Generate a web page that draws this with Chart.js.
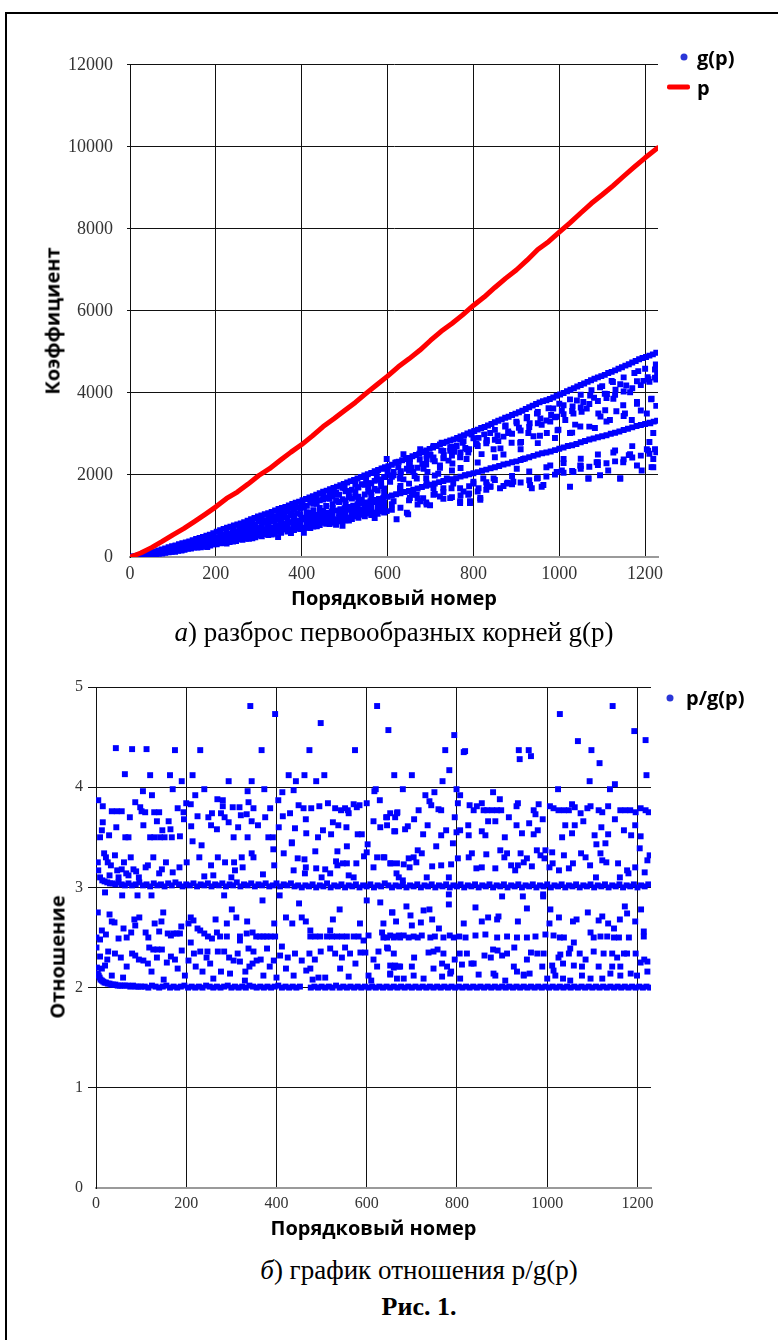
<!DOCTYPE html>
<html lang="ru">
<head>
<meta charset="utf-8">
<title>Рис. 1</title>
<script src="https://cdn.jsdelivr.net/npm/chart.js@4.4.1/dist/chart.umd.min.js"></script>
<style>
  html, body { margin: 0; padding: 0; background: #fff; }
  #page { position: relative; width: 778px; height: 1340px; overflow: hidden; }
  .frame { position: absolute; left: 5px; top: 12px; right: -10px; bottom: -10px;
           border-top: 2px solid #000; border-left: 2px solid #000; }
  canvas { position: absolute; left: 0; }
  .ytitle { position: absolute; font: bold 20px "Open Sans"; white-space: nowrap;
            transform: translate(-50%, -50%) rotate(-90deg); }
  .caption { position: absolute; font-family: "Liberation Serif"; font-size: 27px;
             white-space: nowrap; transform: translate(-50%, -50%); }
  .leg { position: absolute; font: bold 20px "Open Sans"; transform: translateY(-50%); white-space: nowrap; }
  .dot { position: absolute; width: 7px; height: 7px; border-radius: 50%; background: #2a36d8;
         transform: translate(-50%, -50%); }
  .dash { position: absolute; height: 5px; background: #f00; border-radius: 2px; transform: translateY(-50%); }
</style>
</head>
<body>
<div id="page">
  <div class="frame"></div>

  <canvas id="topChart" width="778" height="580" style="top:40px"></canvas>
  <div class="ytitle" style="left:52px; top:321px">Коэффициент</div>
  <div class="dot" style="left:684px; top:57px"></div>
  <div class="leg" style="left:697px; top:57px">g(p)</div>
  <div class="dash" style="left:667px; top:87px; width:23px"></div>
  <div class="leg" style="left:697px; top:87px">p</div>
  <div class="caption" style="left:394px; top:632px"><i>а</i>) разброс первообразных корней g(p)</div>

  <canvas id="ratioChart" width="778" height="590" style="top:660px"></canvas>
  <div class="ytitle" style="left:57px; top:957px">Отношение</div>
  <div class="dot" style="left:670px; top:698px"></div>
  <div class="leg" style="left:686px; top:697px">p/g(p)</div>
  <div class="caption" style="left:419px; top:1270px"><i>б</i>) график отношения p/g(p)</div>
  <div class="caption" style="left:419px; top:1307px; font-weight:bold; font-size:26px">Рис. 1.</div>
</div>

<script>
// ось X общая: порядковый номер простого числа
const xTicks = [0, 200, 400, 600, 800, 1000, 1200];
const topYTicks = [0, 2000, 4000, 6000, 8000, 10000, 12000];
const ratioYTicks = [0, 1, 2, 3, 4, 5];

// красная линия p (порядковый номер -> простое число)
const pIndex = [1, 25, 50, 75, 100, 125, 150, 175, 200, 225, 250, 275, 300, 325, 350, 375, 400, 425, 450, 475,
  500, 525, 550, 575, 600, 625, 650, 675, 700, 725, 750, 775, 800, 825, 850, 875, 900, 925, 950, 975,
  1000, 1025, 1050, 1075, 1100, 1125, 1150, 1175, 1200, 1229];
const pValue = [2, 97, 229, 379, 541, 691, 863, 1039, 1223, 1427, 1583, 1777, 1987, 2153, 2357, 2557, 2741, 2953, 3181, 3371,
  3571, 3769, 3989, 4201, 4409, 4637, 4831, 5039, 5279, 5503, 5693, 5903, 6133, 6337, 6571, 6793, 6997, 7237, 7499, 7687,
  7919, 8147, 8387, 8623, 8831, 9049, 9283, 9511, 9733, 9973];

// g(p): верхняя кромка (около p/2)
const gUpper = [[2,2],[8,10],[14,22],[20,36],[26,50],[32,66],[38,82],[44,98],[50,114],[58,136],[66,160],[74,186],[82,210],[90,236],
  [98,262],[106,284],[114,310],[122,336],[130,354],[138,380],[146,412],[154,440],[162,462],[170,488],[178,520],[186,546],[194,580],
  [202,616],[210,650],[218,686],[226,716],[234,740],[242,770],[250,792],[258,818],[266,850],[274,886],[282,920],[290,950],[298,990],
  [306,1010],[314,1040],[322,1070],[330,1100],[338,1136],[346,1170],[354,1196],[362,1220],[370,1256],[378,1290],[386,1322],[394,1350],
  [402,1384],[410,1416],[418,1450],[426,1480],[434,1520],[442,1556],[450,1590],[458,1618],[466,1650],[474,1682],[482,1716],[490,1750],
  [498,1782],[506,1816],[514,1850],[522,1880],[530,1914],[538,1952],[546,1990],[554,2018],[562,2050],[570,2090],[578,2120],[586,2160],
  [594,2190],[602,2212],[610,2250],[618,2296],[626,2320],[634,2360],[642,2390],[650,2416],[658,2456],[666,2486],[674,2516],[682,2560],
  [690,2596],[698,2636],[706,2670],[714,2706],[722,2746],[730,2776],[738,2810],[746,2840],[754,2864],[762,2900],[770,2938],[778,2970],
  [786,3010],[794,3040],[802,3070],[810,3106],[818,3144],[826,3170],[834,3206],[842,3244],[850,3286],[858,3320],[866,3356],[874,3394],
  [882,3420],[890,3460],[898,3496],[906,3530],[914,3566],[922,3610],[930,3650],[938,3690],[946,3730],[954,3770],[962,3800],[970,3820],
  [978,3850],[986,3890],[994,3930],[1002,3964],[1010,4000],[1018,4040],[1026,4076],[1034,4116],[1042,4156],[1050,4194],[1058,4230],
  [1066,4270],[1074,4310],[1082,4346],[1090,4380],[1098,4410],[1106,4440],[1114,4486],[1122,4514],[1130,4550],[1138,4590],[1146,4626],
  [1154,4666],[1162,4700],[1170,4740],[1178,4780],[1186,4820],[1194,4850],[1202,4874],[1210,4910],[1218,4940],[1226,4980]];

// g(p): точки чуть ниже верхней кромки
const gNearUpper = [[300,937],[306,895],[325,1016],[331,970],[350,1112],[356,1062],[375,1206],[381,1152],[400,1293],[406,1235],
  [425,1393],[431,1330],[450,1500],[456,1433],[475,1590],[481,1518],[500,1684],[506,1609],[525,1778],[531,1698],[550,1882],[556,1797],
  [575,1982],[581,1892],[600,2080],[606,1986],[625,2187],[631,2089],[650,2279],[656,2176],[675,2377],[681,2270],[700,2490],[706,2378],
  [725,2596],[731,2479],[750,2685],[756,2564],[775,2784],[781,2659],[800,2893],[806,2763],[825,2989],[831,2855],[850,3100],[856,2960],
  [875,3204],[881,3060],[900,3300],[906,3152],[925,3414],[931,3260],[950,3537],[956,3378],[975,3626],[981,3463],[1000,3735],
  [1006,3567],[1025,3843],[1031,3670],[1050,3956],[1056,3778],[1075,4067],[1081,3884],[1100,4166],[1106,3978],[1125,4268],
  [1131,4076],[1150,4379],[1156,4182],[1175,4486],[1181,4284],[1200,4591],[1206,4384],[1225,4693],[1228,4482]];

// g(p): вторая плотная полоса (около p/3)
const gThird = [[10,10],[20,24],[30,40],[40,56],[50,76],[60,96],[70,116],[80,136],[90,158],[100,180],[110,200],[120,222],[130,238],
  [140,262],[150,288],[160,306],[170,330],[180,356],[190,384],[200,408],[210,432],[220,466],[230,490],[240,510],[250,528],[260,552],
  [270,584],[280,610],[290,636],[300,662],[310,680],[320,700],[330,728],[340,756],[350,786],[360,810],[370,836],[380,862],[390,888],
  [400,914],[410,944],[420,974],[430,1000],[440,1030],[450,1060],[460,1082],[470,1110],[480,1136],[490,1164],[500,1190],[510,1218],
  [520,1248],[530,1278],[540,1306],[550,1330],[560,1358],[570,1390],[580,1412],[590,1446],[600,1470],[610,1500],[620,1530],[630,1556],
  [640,1584],[650,1610],[660,1640],[670,1670],[680,1708],[690,1736],[700,1760],[710,1790],[720,1826],[730,1852],[740,1880],[750,1898],
  [760,1920],[770,1960],[780,1990],[790,2016],[800,2044],[810,2070],[820,2104],[830,2130],[840,2164],[850,2190],[860,2220],[870,2256],
  [880,2276],[890,2310],[900,2332],[910,2364],[920,2400],[930,2432],[940,2466],[950,2500],[960,2530],[970,2550],[980,2572],[990,2606],
  [1000,2640],[1010,2670],[1020,2706],[1030,2724],[1040,2756],[1050,2796],[1060,2826],[1070,2866],[1080,2890],[1090,2920],[1100,2944],
  [1110,2970],[1120,3004],[1130,3030],[1140,3062],[1150,3094],[1160,3126],[1170,3160],[1180,3194],[1190,3220],[1200,3244],[1210,3276],
  [1220,3300],[1228,3324]];

// g(p): разброс, первая половина
const gSpreadLeft = [[15,19],[15,12],[30,45],[30,32],[30,28],[45,86],[45,76],[45,56],[45,50],[45,45],[60,117],[60,104],[60,85],[60,74],
  [60,69],[75,172],[75,149],[75,118],[75,108],[75,97],[75,86],[90,201],[90,178],[90,142],[90,123],[90,113],[105,254],[105,228],[105,181],
  [105,163],[105,150],[105,130],[120,275],[120,258],[120,200],[120,176],[120,160],[135,350],[135,296],[135,240],[135,220],[135,200],
  [150,367],[150,338],[150,266],[150,247],[150,230],[165,425],[165,391],[165,310],[165,268],[165,237],[180,486],[180,419],[180,334],
  [180,281],[180,245],[195,505],[195,457],[195,365],[195,339],[195,308],[210,527],[210,478],[210,391],[210,359],[210,337],[225,649],
  [225,549],[225,432],[225,386],[225,327],[240,640],[240,593],[240,484],[240,432],[240,380],[255,720],[255,645],[255,496],[255,431],
  [270,734],[270,680],[270,525],[270,484],[270,447],[285,855],[285,739],[285,568],[285,506],[285,455],[300,875],[300,715],[300,568],
  [300,523],[315,893],[315,836],[315,633],[315,562],[330,1028],[330,874],[330,673],[330,595],[330,547],[345,1042],[345,915],[345,698],
  [345,616],[345,485],[360,1067],[360,965],[360,734],[360,669],[375,1206],[375,1070],[375,1019],[375,675],[375,585],[390,1211],
  [390,1067],[390,792],[390,765],[390,692],[405,1206],[405,958],[405,708],[405,591],[420,1326],[420,1075],[420,869],[420,776],
  [420,705],[435,1434],[435,1300],[435,884],[435,766],[435,749],[450,1401],[450,1120],[450,967],[450,886],[450,833],[465,1529],
  [465,1418],[465,1057],[465,938],[465,806],[480,1568],[480,1368],[480,906],[480,786],[495,1685],[495,1410],[495,1053],[495,929],
  [495,872],[495,763],[510,1550],[510,1458],[510,1151],[510,953],[510,888],[525,1577],[525,1467],[525,1156],[525,1068],[525,994],
  [540,1772],[540,1396],[540,1155],[540,1072],[540,1029],[555,1715],[555,1599],[555,1239],[555,1177],[555,1059],[570,1856],[570,1656],
  [570,1341],[570,1085],[570,951],[585,1817],[585,1729],[585,1290],[585,1210],[585,1118],
  [52,70],[67,110],[82,160],[97,190],[112,245],[127,290],[142,300],[157,350],[172,380],[187,470],[202,460],[217,540],[232,560],
  [247,620],[262,700],[277,760],[292,800],[307,900],[322,920],[337,980],[352,1000],[367,1100],[382,1150],[397,1180],[412,1250],
  [427,1300],[442,1380],[457,1450],[472,1480],[487,1520],[502,1600],[517,1640],[532,1700],[547,1760],[562,1800],[577,1880],[592,1950],
  [52,58],[67,85],[82,115],[97,140],[112,165],[127,200],[142,225],[157,255],[172,280],[187,310],[202,340],[217,375],[232,405],
  [247,440],[262,460],[277,500],[292,520],[307,560],[322,590],[337,630],[352,660],[367,690],[382,720],[397,745],[412,790],[427,810],
  [442,850],[457,890],[472,930],[487,960],[502,985],[517,1020],[532,1050],[547,1080],[562,1120],[577,1150],[592,1180]];

// g(p): заполнение сплошной полосы до 600
const gSpreadFill = [[22,30],[22,24],[37,60],[37,48],[37,39],[67,127],[67,100],[67,83],[82,162],[82,150],[82,128],[82,105],
  [97,196],[97,154],[97,127],[112,236],[112,219],[112,186],[112,153],[127,270],[127,212],[127,175],[142,316],[142,293],[142,249],
  [142,205],[157,353],[157,278],[157,230],[172,393],[172,365],[172,309],[172,255],[187,430],[187,338],[187,279],[202,473],[202,440],
  [202,373],[202,308],[217,523],[217,412],[217,340],[232,561],[232,521],[232,442],[232,365],[247,603],[247,475],[247,392],[262,642],
  [262,596],[262,506],[262,417],[277,688],[277,542],[277,447],[292,736],[292,683],[292,580],[292,478],[307,780],[307,614],[307,507],
  [322,822],[322,763],[322,648],[322,534],[337,874],[337,689],[337,568],[352,912],[352,847],[352,718],[352,593],[367,953],[367,751],
  [367,619],[382,1008],[382,936],[382,794],[382,655],[397,1046],[397,824],[397,680],[412,1093],[412,1015],[412,862],[412,711],
  [427,1142],[427,900],[427,742],[442,1196],[442,1110],[442,942],[442,777],[457,1242],[457,978],[457,807],[472,1287],[472,1195],
  [472,1014],[472,837],[487,1343],[487,1058],[487,873],[502,1378],[502,1280],[502,1086],[502,896],[517,1427],[517,1124],[517,927],
  [532,1470],[532,1365],[532,1158],[532,955],[547,1526],[547,1202],[547,992],[562,1573],[562,1461],[562,1240],[562,1023],
  [577,1623],[577,1278],[577,1055],[592,1673],[592,1553],[592,1318],[592,1087]];

// g(p): разброс, вторая половина
const gSpreadRight = [[614,2072],[629,1913],[652,2310],[660,2072],[684,2151],[691,2389],[707,2429],[722,2230],[730,2587],[746,2667],
  [742,2349],[761,2706],[769,2429],[777,2825],[788,2548],[808,2746],[812,2905],[831,2825],[839,3024],[847,2627],[858,2825],[874,3183],
  [882,3024],[889,2786],[901,3262],[909,2786],[924,3381],[928,3024],[940,2944],[948,3500],[959,3222],[971,3024],[979,3302],[986,3619],
  [994,3421],[998,3103],[1010,3699],[1014,3341],[1025,3024],[1033,3500],[1041,3817],[1049,3183],[1052,3540],[1064,3619],[1072,3937],
  [1083,3143],[1091,3500],[1095,4135],[1107,3580],[1111,3976],[1118,3341],[1122,4294],[1126,3857],[1142,4214],[1149,3699],[1153,3500],
  [1165,4016],[1169,3341],[1181,3778],[1184,4532],[1196,4294],[1204,3500],[1208,4333],[1215,3857],[1223,4572],[1223,4373],[1212,3262],
  [598,2389],[621,2310],[637,2508],[652,2389],[676,2627],[691,2468],[707,2706],[726,2786],[746,2587],[769,2865],[784,2627],[796,2984],
  [614,1357],[629,1595],[645,1079],[652,1437],[668,1516],[691,1278],[707,1675],[722,1476],[738,1913],[749,1675],[769,1357],[777,1595],
  [792,1317],[800,1833],[816,1437],[831,1754],[847,1913],[862,1675],[878,1794],[893,1833],[901,2151],[916,2389],[932,1754],[948,1913],
  [963,1754],[979,2230],[994,2072],[1010,2389],[1025,1714],[1033,2072],[1049,2230],[1068,1913],[1087,2310],[1095,1992],[1114,2111],
  [1126,2548],[1142,1913],[1149,2310],[1165,2508],[1181,2230],[1192,2111],[1204,2627],[1215,2191],[1219,2389],[1223,2627],[1219,3024],
  [621,920],[648,1039],[598,1119],[699,1262],[683,1436],[769,1317],[792,1357],[816,1397],[839,1714],[936,1674],[959,1714],[1068,1912],
  [1142,1912],[1219,2190],[590,2150],[606,1833],[614,1992],[629,1674],[645,2150],[656,1516],[668,1912],[676,1357],[691,1793],[707,1516],
  [718,2031],[730,1674],[746,1436],[753,1793],[769,1674],[781,1992],[788,1516],[800,1793],[812,1674],[823,1912],
  [637,1892],[663,1976],[693,2076],[722,2176],[751,2280],[784,2388],[819,2508],[863,2648],[911,2804],[955,2956],[996,3088],[1037,3228],
  [1096,3424],[1133,3552],[1181,3736],[1214,3844],[840,1720],[880,1810],[1006,2110],[1050,2218],[1090,2312],[1162,2484],[1207,2593]];

// g(p): дополнительный разброс справа
const gSpreadRight2 = [[610,1957],[610,1286],[610,1154],[630,2035],[630,1733],[630,1200],[650,2100],[650,1789],[650,1380],
  [670,2174],[670,1429],[670,1282],[690,2252],[690,1919],[690,1328],[710,2335],[710,1989],[710,1534],[730,2409],[730,1583],[730,1421],
  [750,2475],[750,2109],[750,1460],[770,2548],[770,2170],[770,1503],[790,2626],[790,1726],[790,1549],[810,2704],[810,2304],[810,1595],
  [830,2774],[830,1823],[830,1636],[850,2857],[850,2434],[850,1877],[870,2935],[870,2500],[870,1731],[890,3004],[890,1974],[890,1772],
  [910,3083],[910,2626],[910,1818],[930,3170],[930,2083],[930,1869],[950,3260],[950,2777],[950,1923],[970,3326],[970,2186],[970,1962],
  [990,3404],[990,2900],[990,2008],[1010,3483],[1010,2289],[1010,2054],[1030,3561],[1030,3033],[1030,2100],[1050,3647],[1050,2396],
  [1050,2151],[1070,3730],[1070,3178],[1070,2200],[1090,3804],[1090,2500],[1090,2244],[1110,3878],[1110,3304],[1110,2287],
  [1130,3952],[1130,2597],[1130,2331],[1150,4036],[1150,3438],[1150,2380],[1170,4113],[1170,2703],[1170,2426],[1190,4191],
  [1190,3570],[1190,2472],[1210,4270],[1210,2806],[1210,2518],[1226,4326],[1226,3685],[1226,2551]];

// p/g(p): плотный ряд около 2
const ratioRow2 = [[2,2.2],[4,2.14],[6,2.12],[8,2.1],[10,2.08],[13,2.07],[16,2.06],[19,2.05],[22,2.05],[26,2.04],[30,2.04],[34,2.03],
  [38,2.03],[43,2.03],[48,2.02],[53,2.02],[58,2.02],[64,2.02],[70,2.02],[76,2.01],[82,2.02],[88,2.01],[94,2.01],[100,2.01],[108,2.01],
  [116,2.0],[124,2.02],[132,2.01],[140,2.0],[148,2.01],[156,2.02],[164,2.0],[172,2.01],[180,2.0],[188,2.01],[196,2.02],[204,2.0],
  [212,2.01],[220,2.0],[228,2.01],[236,2.0],[244,2.02],[252,2.01],[260,2.0],[268,2.01],[276,2.0],[284,2.01],[292,2.02],[300,2.0],
  [308,2.01],[316,2.0],[324,2.01],[332,2.0],[340,2.02],[348,2.01],[356,2.0],[364,2.01],[372,2.0],[380,2.01],[388,2.0],[396,2.01],
  [404,2.02],[412,2.0],[420,2.01],[428,2.0],[436,2.01],[444,2.0],[452,2.01],[476,2.0],[484,2.01],[492,2.0],[500,2.01],[508,2.0],
  [516,2.01],[524,2.0],[532,2.02],[540,2.0],[548,2.01],[556,2.0],[564,2.01],[572,2.0],[580,2.01],[588,2.0],[596,2.01],[604,2.0],
  [612,2.01],[620,2.0],[628,2.01],[636,2.0],[644,2.01],[652,2.0],[660,2.01],[668,2.0],[676,2.01],[684,2.0],[692,2.01],[700,2.0],
  [708,2.01],[716,2.0],[724,2.01],[732,2.0],[740,2.01],[748,2.0],[756,2.01],[764,2.0],[772,2.01],[780,2.0],[788,2.01],[796,2.0],
  [804,2.01],[812,2.0],[820,2.01],[828,2.0],[836,2.01],[844,2.0],[852,2.01],[860,2.0],[868,2.01],[876,2.0],[884,2.01],[892,2.0],
  [900,2.01],[908,2.0],[916,2.01],[924,2.0],[932,2.01],[940,2.0],[948,2.01],[956,2.0],[964,2.01],[972,2.0],[980,2.01],[988,2.0],
  [996,2.01],[1004,2.0],[1012,2.01],[1020,2.0],[1028,2.01],[1036,2.0],[1044,2.01],[1052,2.0],[1060,2.01],[1068,2.0],[1076,2.01],
  [1084,2.0],[1092,2.01],[1100,2.0],[1108,2.01],[1116,2.0],[1124,2.01],[1132,2.0],[1140,2.01],[1148,2.0],[1156,2.01],[1164,2.0],
  [1172,2.01],[1180,2.0],[1188,2.01],[1196,2.0],[1204,2.01],[1212,2.0],[1220,2.01],[1228,2.0]];

// p/g(p): плотный ряд около 3
const ratioRow3 = [[9,3.1],[14,3.07],[19,3.06],[25,3.05],[31,3.04],[37,3.04],[43,3.03],[50,3.05],[57,3.03],[64,3.02],[72,3.04],[80,3.02],
  [88,3.03],[96,3.05],[104,3.02],[112,3.03],[120,3.01],[128,3.04],[136,3.02],[144,3.03],[152,3.01],[160,3.04],[168,3.02],[176,3.05],
  [184,3.03],[192,3.01],[200,3.03],[208,3.02],[216,3.04],[224,3.01],[232,3.03],[240,3.02],[248,3.04],[256,3.01],[264,3.03],[272,3.02],
  [280,3.04],[288,3.01],[296,3.03],[304,3.02],[312,3.05],[320,3.01],[328,3.03],[336,3.02],[344,3.04],[352,3.01],[360,3.03],[368,3.02],
  [376,3.04],[384,3.01],[392,3.02],[400,3.04],[408,3.01],[416,3.03],[424,3.02],[432,3.04],[440,3.01],[448,3.02],[456,3.0],[464,3.02],
  [472,3.01],[480,3.03],[488,3.0],[496,3.02],[504,3.01],[512,3.04],[520,3.0],[528,3.02],[536,3.01],[544,3.03],[552,3.0],[560,3.02],
  [568,3.01],[576,3.03],[584,3.0],[592,3.02],[600,3.01],[608,3.03],[616,3.0],[624,3.02],[632,3.01],[640,3.04],[648,3.02],[656,3.0],
  [664,3.02],[672,3.01],[680,3.03],[688,3.0],[696,3.02],[704,3.01],[712,3.03],[720,3.0],[728,3.02],[736,3.01],[744,3.03],[752,3.0],
  [760,3.02],[768,3.01],[776,3.03],[784,3.0],[792,3.02],[800,3.01],[808,3.03],[816,3.0],[824,3.02],[832,3.01],[840,3.03],[848,3.0],
  [856,3.02],[864,3.01],[872,3.03],[880,3.0],[888,3.02],[896,3.01],[904,3.03],[912,3.0],[920,3.02],[928,3.01],[936,3.03],[944,3.0],
  [952,3.02],[960,3.01],[968,3.03],[976,3.0],[984,3.02],[992,3.01],[1000,3.03],[1008,3.0],[1016,3.02],[1024,3.01],[1032,3.03],
  [1040,3.0],[1048,3.02],[1056,3.01],[1064,3.03],[1072,3.0],[1080,3.02],[1088,3.01],[1096,3.03],[1104,3.0],[1112,3.02],[1120,3.01],
  [1128,3.03],[1136,3.0],[1144,3.02],[1152,3.01],[1160,3.03],[1168,3.0],[1176,3.02],[1184,3.01],[1192,3.03],[1200,3.0],[1208,3.02],
  [1216,3.01],[1224,3.03]];

// p/g(p): точки выше 3
const ratioHigh = [[342,4.81],[397,4.73],[498,4.64],[623,4.81],[648,4.57],[44,4.39],[80,4.38],[112,4.38],[175,4.37],[231,4.37],
  [367,4.37],[473,4.37],[574,4.37],[64,4.13],[120,4.12],[164,4.12],[214,4.12],[190,4.06],[294,4.06],[345,4.06],[427,4.12],[443,4.06],
  [462,4.12],[488,4.06],[506,4.12],[661,4.12],[700,4.12],[794,4.52],[774,4.37],[818,4.36],[815,4.35],[783,4.17],[768,4.06],[937,4.37],
  [959,4.37],[939,4.28],[964,4.31],[1028,4.73],[1068,4.46],[1098,4.37],[1116,4.24],[1094,4.06],[1145,4.81],[1150,4.03],[1193,4.56],
  [1218,4.47],[1220,4.12],[620,3.98],[680,3.98],[1024,3.98],[1139,3.98],
  [5,3.87],[15,3.81],[35,3.76],[46,3.76],[57,3.76],[9,3.5],[13,3.57],[29,3.52],[65,3.5],[72,3.5],[87,3.85],[98,3.8],[101,3.76],
  [109,3.75],[104,3.96],[124,3.92],[129,3.75],[140,3.75],[120,3.5],[129,3.5],[142,3.5],[147,3.57],[152,3.5],[168,3.5],[161,3.66],
  [170,3.98],[181,3.79],[186,3.51],[194,3.75],[200,3.84],[210,3.83],[211,3.61],[214,3.46],[220,3.92],[225,3.71],[234,3.42],[240,3.98],
  [249,3.7],[257,3.74],[268,3.58],[269,3.88],[281,3.87],[277,3.74],[281,3.81],[294,3.65],[305,3.5],[303,3.8],[318,3.8],[321,3.72],
  [334,3.73],[336,3.5],[338,3.85],[336,3.96],[349,3.79],[359,3.62],[386,3.79],[373,3.98],[382,3.5],[392,3.5],[404,3.87],[413,3.95],
  [414,3.71],[430,3.74],[438,3.97],[441,3.59],[434,3.45],[449,3.82],[460,3.79],[466,3.54],[477,3.79],[495,3.81],[492,3.5],[503,3.57],
  [514,3.84],[521,3.53],[530,3.79],[537,3.62],[543,3.77],[552,3.79],[558,3.77],[560,3.74],[571,3.83],[578,3.8],[584,3.82],[580,3.53],
  [589,3.53],[600,3.84],[602,3.43],[617,3.96],[629,3.87],[630,3.6],[645,3.7],[652,3.74],[663,3.56],[667,3.74],
  [750,3.95],[730,3.92],[739,3.86],[743,3.82],[799,3.98],[807,3.92],[802,3.84],[880,3.95],[895,3.88],[643,3.7],[663,3.7],[668,3.75],
  [715,3.77],[759,3.78],[765,3.77],[828,3.82],[837,3.77],[844,3.81],[855,3.84],[859,3.77],[867,3.77],[878,3.77],[889,3.77],[898,3.77],
  [932,3.81],[935,3.84],[970,3.77],[974,3.73],[981,3.83],[1006,3.81],[1014,3.79],[1025,3.77],[1037,3.77],[1048,3.77],[1055,3.83],
  [1061,3.8],[1074,3.74],[1089,3.79],[1096,3.81],[1114,3.77],[1122,3.75],[1135,3.81],[1162,3.77],[1173,3.77],[1184,3.77],[1196,3.75],
  [1207,3.79],[1218,3.77],[1225,3.75],
  [661,3.56],[685,3.58],[691,3.61],[725,3.53],[765,3.52],[776,3.57],[791,3.44],[799,3.55],[807,3.57],[754,3.41],[826,3.52],[855,3.56],
  [863,3.52],[869,3.66],[906,3.5],[932,3.62],[944,3.54],[970,3.53],[979,3.57],[1033,3.5],[1055,3.54],[1061,3.62],[1105,3.52],
  [1109,3.43],[1129,3.44],[1135,3.53],[1170,3.57],[1186,3.52],[1207,3.51],[1205,3.39],
  [4,3.25],[5,3.17],[18,3.34],[22,3.3],[26,3.25],[33,3.22],[42,3.32],[47,3.17],[57,3.18],[62,3.25],[67,3.14],[77,3.3],[83,3.18],
  [89,3.16],[110,3.2],[127,3.3],[140,3.14],[146,3.18],[155,3.25],[201,3.25],[229,3.3],[240,3.11],[270,3.3],[286,3.25],[306,3.25],
  [308,3.17],[323,3.3],[349,3.3],[345,3.34],[393,3.38],[416,3.34],[434,3.44],[438,3.17],[447,3.29],[462,3.28],[463,3.14],[486,3.36],
  [488,3.19],[508,3.18],[519,3.14],[532,3.26],[535,3.36],[547,3.24],[556,3.24],[556,3.41],[571,3.1],[577,3.24],[594,3.31],[600,3.35],
  [623,3.3],[637,3.3],[654,3.24],[667,3.24],[666,3.14],[639,3.3],[652,3.24],[682,3.23],[693,3.29],[704,3.3],[710,3.25],[713,3.37],
  [722,3.34],[745,3.21],[733,3.1],[787,3.23],[782,3.1],[671,3.1],[680,3.07],[802,3.29],[826,3.3],[833,3.34],[843,3.19],[865,3.33],
  [885,3.19],[896,3.37],[905,3.3],[911,3.34],[920,3.22],[929,3.17],[941,3.34],[948,3.25],[955,3.29],[966,3.21],[977,3.37],[985,3.32],
  [994,3.29],[996,3.37],[1011,3.35],[1012,3.24],[1026,3.17],[1037,3.32],[1048,3.19],[1057,3.24],[1075,3.34],[1085,3.3],[1108,3.1],
  [1118,3.34],[1122,3.27],[1131,3.25],[1157,3.24],[1177,3.17],[1161,3.1],[1180,3.14],[1216,3.15],[1222,3.27],[1227,3.32],
  [30,3.12],[50,3.1],[72,3.12],[95,3.1],[170,3.15],[260,3.12],[300,3.1],[370,3.13],[500,3.1],[560,3.12],
  [15,3.65],[45,3.6],[75,3.7],[105,3.62],[135,3.66],[165,3.58],[195,3.68],[255,3.62],[285,3.7],[315,3.6],[345,3.66],[375,3.7],
  [405,3.6],[465,3.68],[525,3.65],[555,3.6],[615,3.66],[645,3.62],[705,3.68],[735,3.62],[795,3.7],[825,3.62],[885,3.66],[915,3.7],
  [960,3.64],[990,3.68],[1040,3.62],[1080,3.66],[1120,3.6],[1150,3.68],[1195,3.62],
  [115,3.22],[185,3.2],[255,3.22],[325,3.2],[395,3.22],[465,3.2],[535,3.22],[615,3.2],[695,3.2],[765,3.22],[855,3.2],[935,3.22],
  [1005,3.2],[1095,3.22],[1195,3.2]];

// p/g(p): точки между 2 и 3
const ratioLow = [[20,2.95],[58,2.92],[92,2.92],[123,2.92],[284,2.92],[369,2.87],[407,2.92],[450,2.84],[456,2.7],[421,2.7],[435,2.64],
  [540,2.78],[600,2.87],[637,2.64],[656,2.75],[4,2.75],[30,2.73],[41,2.65],[13,2.57],[22,2.53],[9,2.48],[1,2.5],[61,2.59],[68,2.5],
  [78,2.55],[87,2.62],[96,2.7],[110,2.55],[116,2.5],[130,2.64],[140,2.56],[149,2.75],[159,2.54],[166,2.52],[172,2.54],[179,2.54],
  [186,2.54],[189,2.61],[210,2.7],[216,2.67],[225,2.59],[231,2.57],[240,2.54],[248,2.51],[257,2.49],[268,2.55],[275,2.51],[290,2.51],
  [301,2.78],[311,2.7],[290,2.64],[319,2.51],[319,2.47],[347,2.55],[355,2.51],[363,2.51],[371,2.51],[378,2.51],[387,2.51],[397,2.51],
  [334,2.54],[412,2.41],[475,2.51],[486,2.51],[497,2.51],[512,2.51],[523,2.51],[534,2.51],[545,2.51],[556,2.51],[571,2.51],[582,2.51],
  [475,2.57],[519,2.57],[593,2.47],[604,2.52],[634,2.55],[645,2.5],[660,2.5],[671,2.52],
  [630,2.85],[657,2.75],[688,2.81],[697,2.72],[726,2.77],[739,2.78],[720,2.65],[700,2.62],[782,2.83],[760,2.59],[841,2.8],[869,2.7],
  [889,2.68],[892,2.71],[955,2.79],[991,2.91],[1007,2.78],[1026,2.7],[1057,2.66],[1090,2.75],[1114,2.67],[1122,2.71],[1148,2.59],
  [1161,2.68],[1172,2.81],[1177,2.74],[1208,2.78],[782,2.93],[900,2.91],[946,2.91],[991,2.93],
  [637,2.5],[652,2.52],[663,2.51],[674,2.5],[682,2.52],[693,2.5],[704,2.51],[713,2.5],[722,2.52],[741,2.5],[751,2.51],[770,2.5],
  [784,2.52],[793,2.5],[805,2.51],[819,2.5],[841,2.52],[863,2.53],[889,2.5],[911,2.51],[933,2.5],[955,2.5],[974,2.51],[996,2.53],
  [1014,2.52],[1028,2.5],[1037,2.5],[1059,2.45],[1096,2.55],[1103,2.5],[1118,2.51],[1133,2.51],[1148,2.5],[1159,2.5],[1181,2.5],
  [1214,2.56],[1214,2.51],
  [1,2.4],[9,2.31],[20,2.22],[13,2.19],[27,2.36],[42,2.34],[50,2.49],[68,2.21],[80,2.34],[87,2.32],[105,2.27],[115,2.24],[123,2.16],
  [118,2.4],[127,2.38],[136,2.38],[146,2.38],[157,2.25],[166,2.31],[181,2.19],[197,2.12],[190,2.37],[205,2.27],[221,2.21],[210,2.45],
  [217,2.34],[231,2.36],[247,2.36],[236,2.16],[253,2.24],[270,2.36],[284,2.36],[277,2.16],[297,2.14],[305,2.27],[314,2.34],[319,2.26],
  [338,2.39],[349,2.36],[331,2.16],[340,2.21],[347,2.24],[356,2.27],[371,2.12],[379,2.39],[385,2.21],[394,2.27],[408,2.32],[421,2.19],
  [441,2.34],[438,2.12],[456,2.27],[466,2.17],[475,2.19],[473,2.34],[493,2.1],[508,2.1],[498,2.36],[519,2.39],[530,2.34],[541,2.19],
  [552,2.4],[563,2.34],[575,2.24],[586,2.35],[597,2.35],[604,2.12],[623,2.21],[626,2.36],[647,2.39],[652,2.13],[663,2.22],[671,2.21],
  [60,2.1],[150,2.08],[260,2.09],[330,2.07],[400,2.1],[480,2.08],[560,2.11],[610,2.07],[35,2.12],
  [645,2.4],[660,2.34],[737,2.35],[748,2.36],[757,2.38],[770,2.34],[806,2.34],[822,2.34],[832,2.24],[861,2.32],[880,2.38],[890,2.37],
  [900,2.32],[911,2.34],[927,2.4],[964,2.35],[978,2.34],[992,2.34],[1011,2.22],[1029,2.33],[1048,2.34],[1051,2.39],[1072,2.34],
  [1103,2.36],[1125,2.34],[1144,2.34],[1170,2.34],[1177,2.34],[1196,2.34],
  [652,2.22],[660,2.2],[674,2.21],[700,2.21],[748,2.19],[767,2.24],[778,2.21],[787,2.16],[811,2.23],[837,2.24],[881,2.14],[926,2.21],
  [933,2.16],[948,2.12],[989,2.21],[1014,2.17],[1035,2.24],[1059,2.22],[1077,2.21],[1114,2.21],[1144,2.21],[1162,2.21],[1207,2.25],
  [1222,2.26],[652,2.14],[667,2.09],[682,2.09],[704,2.12],[726,2.09],[767,2.11],[785,2.14],[807,2.09],[848,2.13],[885,2.12],[907,2.07],
  [948,2.13],[961,2.14],[1000,2.09],[1018,2.12],[1035,2.09],[1051,2.07],[1077,2.12],[1096,2.09],[1122,2.09],[1140,2.14],[1162,2.12],
  [1185,2.14],[1199,2.12],[1222,2.16],
  [25,2.28],[55,2.3],[95,2.28],[135,2.3],[175,2.28],[245,2.3],[295,2.3],[365,2.28],[425,2.3],[485,2.28],[545,2.3],[615,2.28],
  [705,2.3],[795,2.28],[875,2.3],[955,2.28],[1025,2.3],[1085,2.28],[1155,2.3],[1215,2.28],
  [35,2.66],[85,2.68],[145,2.66],[205,2.64],[265,2.68],[335,2.66],[395,2.64],[465,2.66],[525,2.68],[585,2.64],[665,2.66],[745,2.68],
  [815,2.64],[855,2.66],[935,2.66],[1005,2.64],[1065,2.68],[1135,2.64],[1195,2.66]];

const toPts = arr => arr.map(([x, y]) => ({ x, y }));
const serif = 'Liberation Serif';
const sans = 'Open Sans';
const gridDark = '#111';
const axisGrey = '#9a9a9a';

function axes(cfg) {
  return {
    x: {
      type: 'linear', min: 0, max: 1230,
      afterFit: s => { s.height = cfg.xHeight; },
      afterBuildTicks: s => { s.ticks = xTicks.map(v => ({ value: v })); },
      border: { color: axisGrey, width: 2 },
      grid: { color: gridDark, lineWidth: 1, drawTicks: false },
      ticks: { padding: cfg.xPad, color: '#333', maxRotation: 0, callback: v => String(v),
               font: { family: serif, size: cfg.tickSize } },
      title: { display: true, text: 'Порядковый номер', color: '#000',
               font: { family: sans, size: 20, weight: 'bold' }, padding: { top: 0, bottom: 9 } }
    },
    y: {
      type: 'linear', min: 0, max: cfg.yMax,
      afterFit: s => { s.width = cfg.yWidth; },
      afterBuildTicks: s => { s.ticks = cfg.yTicks.map(v => ({ value: v })); },
      border: { color: gridDark, width: 1 },
      grid: { color: c => c.tick && c.tick.value === 0 ? 'rgba(0,0,0,0)' : gridDark, lineWidth: 1, tickLength: cfg.tickLen },
      ticks: { padding: cfg.yPad, color: '#333', callback: v => String(v), font: { family: serif, size: cfg.tickSize } }
    }
  };
}

const common = {
  responsive: false,
  devicePixelRatio: 1,
  animation: false,
  events: [],
  plugins: { legend: { display: false }, tooltip: { enabled: false } }
};

const bluePoints = {
  type: 'scatter',
  showLine: false,
  pointStyle: 'rect',
  pointRadius: 4.2,
  pointBorderWidth: 0,
  backgroundColor: '#0000ff',
  borderColor: '#0000ff'
};

new Chart(document.getElementById('topChart'), {
  data: {
    datasets: [
      { type: 'line', label: 'p', data: pIndex.map((n, i) => ({ x: n, y: pValue[i] })),
        borderColor: '#ff0000', borderWidth: 5, pointRadius: 0, tension: 0,
        borderCapStyle: 'round', borderJoinStyle: 'round', order: 0 },
      Object.assign({ label: 'g(p)', order: 1,
        data: toPts([...gUpper, ...gNearUpper, ...gThird, ...gSpreadLeft, ...gSpreadFill,
                     ...gSpreadRight, ...gSpreadRight2]) }, bluePoints)
    ]
  },
  options: Object.assign({
    layout: { padding: { top: 13, right: 120, bottom: 0, left: 0 } },
    scales: axes({ xHeight: 63, xPad: 6, yWidth: 130, yPad: 14, tickLen: 3, tickSize: 18,
                   yMax: 12000, yTicks: topYTicks })
  }, common)
});

new Chart(document.getElementById('ratioChart'), {
  data: {
    datasets: [
      Object.assign({ label: 'p/g(p)',
        data: toPts([...ratioRow2, ...ratioRow3, ...ratioHigh, ...ratioLow]) }, bluePoints)
    ]
  },
  options: Object.assign({
    layout: { padding: { top: 27, right: 127, bottom: 0, left: 0 } },
    scales: axes({ xHeight: 62, xPad: 6, yWidth: 96, yPad: 5, tickLen: 8, tickSize: 16,
                   yMax: 5, yTicks: ratioYTicks })
  }, common)
});
</script>
</body>
</html>
